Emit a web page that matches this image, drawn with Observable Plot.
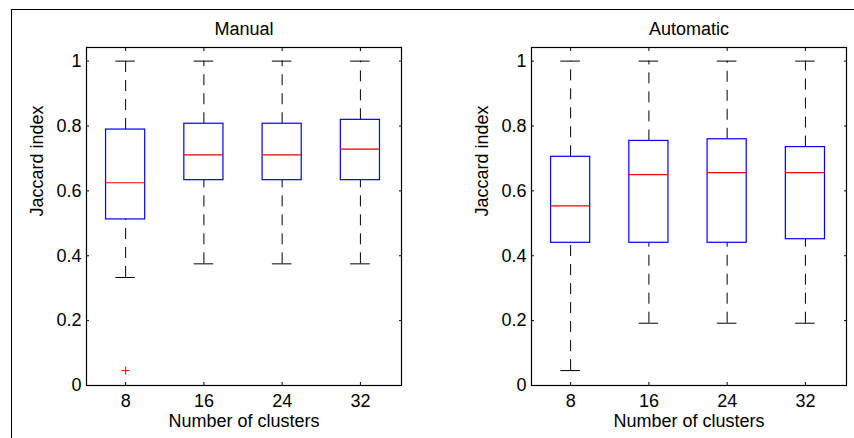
<!DOCTYPE html>
<html>
<head>
<meta charset="utf-8">
<script src="https://cdn.jsdelivr.net/npm/d3@7"></script>
<script src="https://cdn.jsdelivr.net/npm/@observablehq/plot@0.6"></script>
<style>
  html, body { margin: 0; padding: 0; background: #fff; }
  #wrap { position: relative; width: 854px; height: 438px; overflow: hidden; background: #fff; }
  #border { position: absolute; left: 11px; top: 9px; width: 850px; height: 440px; border-top: 1px solid #000; border-left: 1px solid #000; }
  .panel { position: absolute; top: 0; }
</style>
</head>
<body>
<div id="wrap"><div id="border"></div></div>
<script>
// ---- data ----
const clusters = [8, 16, 24, 32];
const yTicks = [0, 0.2, 0.4, 0.6, 0.8, 1];
const panelTitles = ["Manual", "Automatic"];
const xLabel = "Number of clusters";
const yLabel = "Jaccard index";

// Manual
const manualMin = [0.333, 0.375, 0.375, 0.375];
const manualQ1  = [0.512, 0.633, 0.633, 0.633];
const manualMed = [0.625, 0.711, 0.711, 0.729];
const manualQ3  = [0.789, 0.807, 0.807, 0.819];
const manualMax = [1, 1, 1, 1];
const manualOutlierX = [8];
const manualOutlierY = [0.046];

// Automatic
const autoMin = [0.046, 0.192, 0.192, 0.192];
const autoQ1  = [0.440, 0.440, 0.440, 0.451];
const autoMed = [0.554, 0.650, 0.656, 0.656];
const autoQ3  = [0.705, 0.754, 0.759, 0.735];
const autoMax = [1, 1, 1, 1];
const autoOutlierX = [];
const autoOutlierY = [];

const FONT = "'Liberation Sans', Arial, Helvetica, sans-serif";
const FS = 18;

function panel(title, mins, q1s, meds, q3s, maxs, outX, outY, marginLeft, marginRight) {
  const rows = clusters.map((c, i) => ({c, min: mins[i], q1: q1s[i], med: meds[i], q3: q3s[i], max: maxs[i]}));
  const outliers = outX.map((x, i) => ({x, y: outY[i]}));
  return Plot.plot({
    width: 427,
    height: 438,
    marginLeft, marginRight,
    marginTop: 47,
    marginBottom: 53,
    style: {fontFamily: FONT, fontSize: FS + "px", background: "transparent", color: "#000"},
    x: {type: "linear", domain: [4, 36.2], label: null},
    y: {type: "linear", domain: [0, 1.042], label: null},
    marks: [
      Plot.frame({stroke: "#000", strokeWidth: 1.2}),
      Plot.axisX({anchor: "bottom", ticks: clusters, tickSize: -3, tickPadding: 12, label: null}),
      Plot.axisX({anchor: "top", ticks: clusters, tickSize: -3, tickFormat: () => "", label: null}),
      Plot.axisY({anchor: "left", ticks: yTicks, tickSize: -3, tickPadding: 8, tickFormat: d => String(d), label: null}),
      Plot.axisY({anchor: "right", ticks: yTicks, tickSize: -3, tickFormat: () => "", label: null}),
      // whiskers
      Plot.ruleX(rows, {x: "c", y1: "q3", y2: "max", stroke: "#000", strokeWidth: 1, strokeDasharray: "11,8"}),
      Plot.ruleX(rows, {x: "c", y1: "min", y2: "q1", stroke: "#000", strokeWidth: 1, strokeDasharray: "11,8"}),
      // caps
      Plot.ruleY(rows, {y: "max", x1: d => d.c - 1, x2: d => d.c + 1, stroke: "#000", strokeWidth: 1}),
      Plot.ruleY(rows, {y: "min", x1: d => d.c - 1, x2: d => d.c + 1, stroke: "#000", strokeWidth: 1}),
      // boxes
      Plot.rect(rows, {x1: d => d.c - 2, x2: d => d.c + 2, y1: "q1", y2: "q3", stroke: "#0000ff", fill: "none", strokeWidth: 1.2}),
      // medians
      Plot.ruleY(rows, {y: "med", x1: d => d.c - 2, x2: d => d.c + 2, stroke: "#ff0000", strokeWidth: 1.2}),
      // outliers
      Plot.dot(outliers, {x: "x", y: "y", symbol: "plus", stroke: "#ff0000", r: 2.7, strokeWidth: 1}),
      // texts
      Plot.text([title], {text: d => d, frameAnchor: "top", dy: -18, fontSize: FS, lineAnchor: "middle", fill: "#000"}),
      Plot.text([xLabel], {text: d => d, frameAnchor: "bottom", dy: 36, fontSize: FS, lineAnchor: "middle", fill: "#000"}),
      Plot.text([yLabel], {text: d => d, frameAnchor: "left", dx: -49, rotate: -90, fontSize: FS, lineAnchor: "middle", fill: "#000"})
    ]
  });
}

const wrap = document.getElementById("wrap");
const left = panel(panelTitles[0], manualMin, manualQ1, manualMed, manualQ3, manualMax, manualOutlierX, manualOutlierY, 86, 26);
left.classList.add("panel");
left.style.left = "0px";
left.style.position = "absolute";
wrap.appendChild(left);
const right = panel(panelTitles[1], autoMin, autoQ1, autoMed, autoQ3, autoMax, autoOutlierX, autoOutlierY, 104, 8);
right.classList.add("panel");
right.style.left = "427px";
right.style.position = "absolute";
wrap.appendChild(right);
</script>
</body>
</html>
